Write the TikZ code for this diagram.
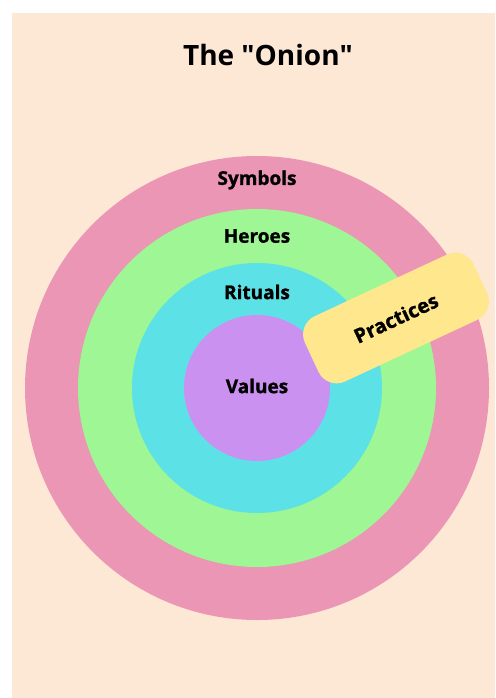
\documentclass[tikz,border=0pt]{standalone}
\usepackage{fontspec}
\setmainfont{Open Sans}
\newfontfamily\heavyfont{Open Sans}[BoldFeatures={FakeBold=1.2}]
\usepackage{tikz}

\definecolor{peach}{HTML}{FDE8D6}
\definecolor{symbolpink}{HTML}{EB96B4}
\definecolor{herogreen}{HTML}{9EF694}
\definecolor{ritualcyan}{HTML}{5CE1E6}
\definecolor{valuepurple}{HTML}{CB91F0}
\definecolor{practyellow}{HTML}{FFE78E}

\begin{document}
\begin{tikzpicture}
		[x=1pt, y=-1pt,
		ring/.style ={circle, inner sep=0pt, draw=none},
		lbl/.style ={font=\fontsize{19}{23}\selectfont\heavyfont\bfseries, text=black},
		badge/.style ={rounded corners=20pt, fill=practyellow, minimum width=186pt, minimum height=72pt,
			font=\fontsize{20}{24}\selectfont\heavyfont\bfseries}]
		\useasboundingbox[fill=white] (0,0) rectangle (495,698);
		\fill[peach] (12,13) rectangle (495,698);
		\node[font=\fontsize{28}{32}\selectfont\bfseries] (title) at (268,55) {The \textquotedbl Onion\textquotedbl};

		\coordinate (c) at (257,388);
		\node[ring, fill=symbolpink, minimum size=464pt] (symbols) at (c) {};
		\node[ring, fill=herogreen, minimum size=358pt] (heroes) at (c) {};
		\node[ring, fill=ritualcyan, minimum size=250pt] (rituals) at (c) {};
		\node[ring, fill=valuepurple, minimum size=146pt] (values) at (c) {};

		\node[lbl] (symbolslbl) at (257,180) {Symbols};
		\node[lbl] (heroeslbl) at (257,236) {Heroes};
		\node[lbl] (ritualslbl) at (257,292) {Rituals};
		\node[lbl] (valueslbl) at (257,386) {Values};

		\node[badge, rotate=25] (practices) at (396,318) {Practices};
\end{tikzpicture}
\end{document}
